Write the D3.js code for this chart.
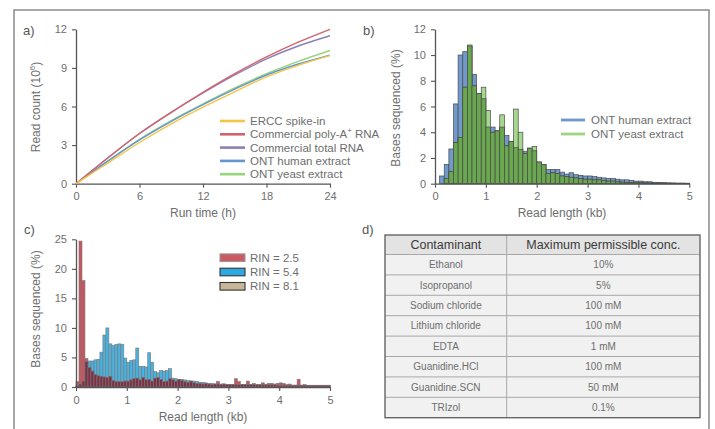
<!DOCTYPE html>
<html>
<head>
<meta charset="utf-8">
<script src="https://cdn.jsdelivr.net/npm/d3@7"></script>
<style>
  body { margin: 0; background: #fff; }
  text { font-family: "Liberation Sans", Arial, sans-serif; }
</style>
</head>
<body>
<div id="vis"></div>
<script>
// ---- panel a: cumulative read count over run time
var runHours = [0, 3, 6, 9, 12, 15, 18, 21, 24];
var erccCounts   = [0, 1.6, 3.2, 4.65, 5.95, 7.15, 8.3, 9.2, 9.95];
var polyACounts  = [0, 2.0, 3.9, 5.55, 7.1, 8.55, 9.85, 11.0, 12.0];
var totalCounts  = [0, 2.0, 3.9, 5.55, 7.05, 8.45, 9.7, 10.7, 11.5];
var humanCounts  = [0, 1.75, 3.4, 4.85, 6.15, 7.35, 8.45, 9.3, 10.0];
var yeastCounts  = [0, 1.75, 3.45, 4.9, 6.2, 7.45, 8.55, 9.5, 10.35];
var hourTicks = [0, 6, 12, 18, 24];
var countTicks = [0, 3, 6, 9, 12];

// ---- panel b: read length histogram, 55 bins over 0-5 kb
var binWidthB = 5 / 55;
var humanBases = [0, 0.6, 1.5, 2.7, 6.2, 10.0, 10.26, 10.7, 8.5, 7.0, 6.6, 4.4, 4.4, 4.1, 4.4, 3.76,
  3.27, 2.8, 2.67, 2.5, 2.77, 2.56, 1.68, 1.5, 1.1, 1.1, 1.1, 0.9, 0.75, 0.85, 0.7, 0.65, 0.6, 0.6,
  0.55, 0.5, 0.45, 0.4, 0.4, 0.35, 0.3, 0.3, 0.25, 0.2, 0.2, 0.15, 0.15, 0.1, 0.1, 0.08, 0.07, 0.06,
  0.05, 0.05, 0.04];
var yeastBases = [0, 0, 0.4, 0.96, 3.2, 3.6, 7.5, 10.78, 7.6, 7.0, 7.5, 5.7, 4.0, 4.1, 5.35, 2.95,
  3.27, 5.8, 4.0, 2.36, 2.75, 2.9, 1.68, 1.5, 0.8, 0.85, 0.8, 0.6, 0.55, 0.5, 0.45, 0.4, 0.35, 0.35,
  0.3, 0.3, 0.25, 0.2, 0.2, 0.15, 0.12, 0.1, 0.1, 0.08, 0.07, 0.06, 0.05, 0.05, 0.04, 0.04, 0.03,
  0.03, 0.02, 0.02, 0.02];
var kbTicks = [0, 1, 2, 3, 4, 5];
var pctTicksB = [0, 2, 4, 6, 8, 10, 12];

// ---- panel c: read length by RIN, 85 bins over 0-5 kb
var binWidthC = 5 / 85;
var rin25 = [0.9, 24.7, 18.0, 4.8, 3.3, 2.7, 2.1, 1.9, 1.8, 1.7, 1.6, 1.8, 1.1, 0.9, 0.9, 0.9,
  1.0, 1.0, 1.2, 1.4, 1.5, 1.2, 1.6, 1.2, 1.3, 1.0, 1.5, 1.6, 1.3, 0.9, 1.0, 1.4, 1.2, 1.0, 1.3,
  1.1, 0.9, 0.8, 1.0, 0.7, 0.6, 0.6, 0.5, 0.6, 0.5, 0.4, 0.5, 0.9, 0.4, 0.5, 0.4, 0.4, 0.4, 1.4,
  0.9, 0.4, 0.4, 1.0, 0.4, 0.6, 0.4, 0.4, 0.7, 0.4, 0.6, 0.6, 0.5, 0.6, 0.7, 0.6, 0.4, 0.5, 0.3,
  0.3, 1.3, 0.3, 0.4, 0.3, 0.3, 0.3, 0.3, 0.3, 0.3, 0.3, 0.3];
var rin54 = [0.2, 0.5, 1.0, 4.3, 4.4, 4.4, 4.6, 4.7, 5.9, 8.8, 10.0, 7.3, 7.0, 7.2, 7.3, 7.2,
  4.9, 4.2, 4.5, 4.6, 6.6, 3.5, 3.5, 3.4, 5.8, 4.2, 2.6, 2.4, 2.8, 2.7, 2.8, 3.1, 1.5, 1.4, 1.3,
  1.3, 1.2, 1.1, 1.0, 1.0, 0.9, 0.8, 0.8, 0.7, 0.6, 0.6, 0.5, 0.5, 0.5, 0.5, 0.45, 0.45, 0.4, 0.4,
  0.4, 0.4, 0.4, 0.4, 0.4, 0.4, 0.35, 0.35, 0.35, 0.35, 0.35, 0.35, 0.35, 0.3, 0.3, 0.3, 0.3, 0.3,
  0.3, 0.3, 0.3, 0.3, 0.3, 0.25, 0.25, 0.25, 0.25, 0.25, 0.25, 0.25, 0.25];
var rin81 = [0.1, 0.3, 0.6, 1.2, 2.0, 1.8, 1.6, 1.5, 1.4, 1.3, 1.2, 1.1, 1.0, 0.9, 0.8, 0.8,
  0.8, 0.8, 0.8, 0.8, 0.8, 0.8, 0.8, 0.7, 0.7, 0.7, 0.7, 0.7, 0.7, 0.6, 0.6, 0.6, 0.6, 0.6, 0.6,
  0.5, 0.5, 0.5, 0.5, 0.5, 0.4, 0.4, 0.4, 0.4, 0.4, 0.3, 0.3, 0.3, 0.3, 0.3, 0.3, 0.3, 0.3, 0.3,
  0.3, 0.3, 0.3, 0.3, 0.3, 0.3, 0.3, 0.3, 0.3, 0.3, 0.3, 0.3, 0.3, 0.2, 0.2, 0.2, 0.2, 0.2, 0.2,
  0.2, 0.2, 0.2, 0.2, 0.2, 0.2, 0.2, 0.2, 0.2, 0.2, 0.2, 0.2];
var pctTicksC = [0, 5, 10, 15, 20, 25];

// ---- panel d: table
var tableHeader = ["Contaminant", "Maximum permissible conc."];
var contaminants = ["Ethanol", "Isopropanol", "Sodium chloride", "Lithium chloride", "EDTA",
  "Guanidine.HCl", "Guanidine.SCN", "TRIzol"];
var maxConc = ["10%", "5%", "100 mM", "100 mM", "1 mM", "100 mM", "50 mM", "0.1%"];

var W = 715, H = 429;
var textCol = "#6e6e6e", axisCol = "#555";
var intFmt = d3.format("d");

var svg = d3.select("#vis").append("svg")
  .attr("width", W).attr("height", H);

// outer frame
svg.append("rect")
  .attr("x", 14).attr("y", 10).attr("width", 695).attr("height", 440)
  .attr("fill", "none").attr("stroke", "#8a8a8a").attr("stroke-width", 1.5);

function styleAxis(g) {
  g.select(".domain").attr("stroke", axisCol).attr("stroke-width", 1.3);
  g.selectAll(".tick line").attr("stroke", axisCol).attr("stroke-width", 1.1);
  g.selectAll(".tick text").attr("fill", textCol).style("font-size", "11px")
    .style("font-family", "'Liberation Sans', Arial, sans-serif");
}

function addLabel(txt, x, y, rotate) {
  var t = svg.append("text")
    .attr("text-anchor", "middle")
    .attr("fill", textCol)
    .style("font-size", "12px")
    .attr("transform", "translate(" + x + "," + y + ")" + (rotate ? " rotate(-90)" : ""));
  return t.text(txt);
}

function panelTag(txt, x, y) {
  svg.append("text").attr("x", x).attr("y", y).attr("fill", "#555")
    .style("font-size", "13px").text(txt);
}

// ================= panel a =================
var xA = d3.scaleLinear().domain([0, 24]).range([76, 330]);
var yA = d3.scaleLinear().domain([0, 12]).range([183.7, 29.3]);

svg.append("g").attr("transform", "translate(0,183.7)")
  .call(d3.axisBottom(xA).tickValues(hourTicks).tickFormat(intFmt).tickSize(4).tickSizeOuter(0).tickPadding(5))
  .call(styleAxis);
svg.append("g").attr("transform", "translate(76,0)")
  .call(d3.axisLeft(yA).tickValues(countTicks).tickFormat(intFmt).tickSize(4).tickSizeOuter(0).tickPadding(5))
  .call(styleAxis);

var seriesA = [
  {name: "ERCC spike-in", vals: erccCounts, color: "#f6c444"},
  {name: "Commercial poly-A", sup: "+", after: " RNA", vals: polyACounts, color: "#d0646c"},
  {name: "Commercial total RNA", vals: totalCounts, color: "#8c7fb4"},
  {name: "ONT human extract", vals: humanCounts, color: "#6496d0"},
  {name: "ONT yeast extract", vals: yeastCounts, color: "#98d47c"}
];

var lineA = d3.line()
  .x(function (d, i) { return xA(runHours[i]); })
  .y(function (d) { return yA(d); })
  .curve(d3.curveMonotoneX);

svg.append("g").selectAll("path")
  .data(seriesA.slice().reverse())
  .join("path")
  .attr("fill", "none")
  .attr("stroke", function (d) { return d.color; })
  .attr("stroke-width", 1.4)
  .attr("d", function (d) { return lineA(d.vals); });

var legA = svg.append("g");
seriesA.forEach(function (s, i) {
  var yy = 121 + i * 13.3;
  legA.append("line").attr("x1", 220).attr("x2", 245).attr("y1", yy).attr("y2", yy)
    .attr("stroke", s.color).attr("stroke-width", 2.6);
  var t = legA.append("text").attr("x", 250).attr("y", yy + 4).attr("fill", textCol)
    .style("font-size", "11.5px").text(s.name);
  if (s.sup) {
    t.append("tspan").attr("dy", -5).style("font-size", "8px").text(s.sup);
    t.append("tspan").attr("dy", 5).text(s.after);
  }
});

panelTag("a)", 23, 35);
var ylabA = addLabel("Read count (10", 40, 107, true);
ylabA.append("tspan").attr("dy", -5).style("font-size", "8px").text("6");
ylabA.append("tspan").attr("dy", 5).text(")");
addLabel("Run time (h)", 203, 217, false);

// ================= panel b =================
var xB = d3.scaleLinear().domain([0, 5]).range([435, 689.3]);
var yB = d3.scaleLinear().domain([0, 12]).range([183.7, 29.3]);

function drawPair(g, x, y, binW, a, b, colA, colB, colBoth, stroke, sw) {
  var idx = d3.range(a.length);
  var bw = x(binW) - x(0);
  g.append("g").selectAll("rect").data(idx).join("rect")
    .attr("x", function (i) { return x(i * binW); })
    .attr("y", function (i) { return y(a[i]); })
    .attr("width", bw)
    .attr("height", function (i) { return y(0) - y(a[i]); })
    .attr("fill", colA).attr("stroke", stroke).attr("stroke-width", sw);
  g.append("g").selectAll("rect").data(idx).join("rect")
    .attr("x", function (i) { return x(i * binW); })
    .attr("y", function (i) { return y(b[i]); })
    .attr("width", bw)
    .attr("height", function (i) { return y(0) - y(b[i]); })
    .attr("fill", colB).attr("stroke", stroke).attr("stroke-width", sw);
  g.append("g").selectAll("rect").data(idx).join("rect")
    .attr("x", function (i) { return x(i * binW); })
    .attr("y", function (i) { return y(Math.min(a[i], b[i])); })
    .attr("width", bw)
    .attr("height", function (i) { return y(0) - y(Math.min(a[i], b[i])); })
    .attr("fill", colBoth).attr("stroke", stroke).attr("stroke-width", sw);
}

drawPair(svg.append("g"), xB, yB, binWidthB, humanBases, yeastBases,
  "#7099cc", "#a6d78e", "#6aa850", "#4a4a4a", 0.7);

svg.append("g").attr("transform", "translate(0,183.7)")
  .call(d3.axisBottom(xB).tickValues(kbTicks).tickFormat(intFmt).tickSize(4).tickSizeOuter(0).tickPadding(5))
  .call(styleAxis);
svg.append("g").attr("transform", "translate(435,0)")
  .call(d3.axisLeft(yB).tickValues(pctTicksB).tickFormat(intFmt).tickSize(4).tickSizeOuter(0).tickPadding(5))
  .call(styleAxis);

var legB = [{name: "ONT human extract", color: "#6d97cd"}, {name: "ONT yeast extract", color: "#9fd483"}];
legB.forEach(function (s, i) {
  var yy = 120 + i * 14;
  svg.append("line").attr("x1", 561).attr("x2", 585).attr("y1", yy).attr("y2", yy)
    .attr("stroke", s.color).attr("stroke-width", 2.8);
  svg.append("text").attr("x", 591).attr("y", yy + 4).attr("fill", textCol)
    .style("font-size", "11.5px").text(s.name);
});

panelTag("b)", 363, 35);
addLabel("Bases sequenced (%)", 400, 108, true);
addLabel("Read length (kb)", 562, 217, false);

// ================= panel c =================
var xC = d3.scaleLinear().domain([0, 5]).range([76, 330]);
var yC = d3.scaleLinear().domain([0, 25]).range([387, 239.3]);

var gC = svg.append("g");
gC.append("g").selectAll("rect").data(d3.range(rin81.length)).join("rect")
  .attr("x", function (i) { return xC(i * binWidthC); })
  .attr("y", function (i) { return yC(rin81[i]); })
  .attr("width", xC(binWidthC) - xC(0))
  .attr("height", function (i) { return yC(0) - yC(rin81[i]); })
  .attr("fill", "#c6b497").attr("stroke", "#555").attr("stroke-width", 0.6);
drawPair(gC, xC, yC, binWidthC, rin54, rin25,
  "#4ab2e0", "#c9565f", "#7c3246", "#777", 0.6);

svg.append("g").attr("transform", "translate(0,387)")
  .call(d3.axisBottom(xC).tickValues(kbTicks).tickFormat(intFmt).tickSize(4).tickSizeOuter(0).tickPadding(5))
  .call(styleAxis);
svg.append("g").attr("transform", "translate(76,0)")
  .call(d3.axisLeft(yC).tickValues(pctTicksC).tickFormat(intFmt).tickSize(4).tickSizeOuter(0).tickPadding(5))
  .call(styleAxis);

var legC = [
  {name: "RIN = 2.5", color: "#cc5a62", stroke: "#999"},
  {name: "RIN = 5.4", color: "#2ca9e1", stroke: "#333"},
  {name: "RIN = 8.1", color: "#c8b69a", stroke: "#333"}
];
legC.forEach(function (s, i) {
  var yy = 257.7 + i * 14.3;
  svg.append("rect").attr("x", 220).attr("y", yy - 3.8).attr("width", 25).attr("height", 7.6)
    .attr("fill", s.color).attr("stroke", s.stroke).attr("stroke-width", 1.1);
  svg.append("text").attr("x", 250).attr("y", yy + 4).attr("fill", textCol)
    .style("font-size", "11.5px").text(s.name);
});

panelTag("c)", 24, 234);
addLabel("Bases sequenced (%)", 40, 309, true);
addLabel("Read length (kb)", 203, 421, false);

// ================= panel d =================
var tLeft = 385, tMid = 506.7, tRight = 700, tTop = 235, headH = 19.5, tBottom = 417.7;
var rowY = d3.scaleBand().domain(d3.range(contaminants.length)).range([tTop + headH, tBottom]);

var gD = svg.append("g");
gD.append("rect").attr("x", tLeft).attr("y", tTop).attr("width", tRight - tLeft).attr("height", headH)
  .attr("fill", "#e3e3e3");
gD.append("rect").attr("x", tLeft).attr("y", tTop + headH).attr("width", tRight - tLeft)
  .attr("height", tBottom - tTop - headH).attr("fill", "#f1f1f1");

gD.selectAll("line.row").data(d3.range(contaminants.length)).join("line")
  .attr("class", "row")
  .attr("x1", tLeft).attr("x2", tRight)
  .attr("y1", function (i) { return rowY(i); }).attr("y2", function (i) { return rowY(i); })
  .attr("stroke", "#a8a8a8").attr("stroke-width", 1);
gD.append("line").attr("x1", tMid).attr("x2", tMid).attr("y1", tTop).attr("y2", tBottom)
  .attr("stroke", "#a8a8a8").attr("stroke-width", 1);
gD.append("rect").attr("x", tLeft).attr("y", tTop).attr("width", tRight - tLeft)
  .attr("height", tBottom - tTop).attr("fill", "none").attr("stroke", "#666").attr("stroke-width", 1.4);

var colX = [(tLeft + tMid) / 2, (tMid + tRight) / 2];
tableHeader.forEach(function (h, j) {
  gD.append("text").attr("x", colX[j]).attr("y", tTop + headH / 2 + 4.5)
    .attr("text-anchor", "middle").attr("fill", "#3a3a3a")
    .style("font-size", "12.5px").text(h);
});
gD.selectAll("text.c1").data(contaminants).join("text").attr("class", "c1")
  .attr("x", colX[0]).attr("y", function (d, i) { return rowY(i) + rowY.bandwidth() / 2 + 3.5; })
  .attr("text-anchor", "middle").attr("fill", textCol).style("font-size", "10px")
  .text(function (d) { return d; });
gD.selectAll("text.c2").data(maxConc).join("text").attr("class", "c2")
  .attr("x", colX[1]).attr("y", function (d, i) { return rowY(i) + rowY.bandwidth() / 2 + 3.5; })
  .attr("text-anchor", "middle").attr("fill", textCol).style("font-size", "10px")
  .text(function (d) { return d; });

panelTag("d)", 362, 234);
</script>
</body>
</html>
